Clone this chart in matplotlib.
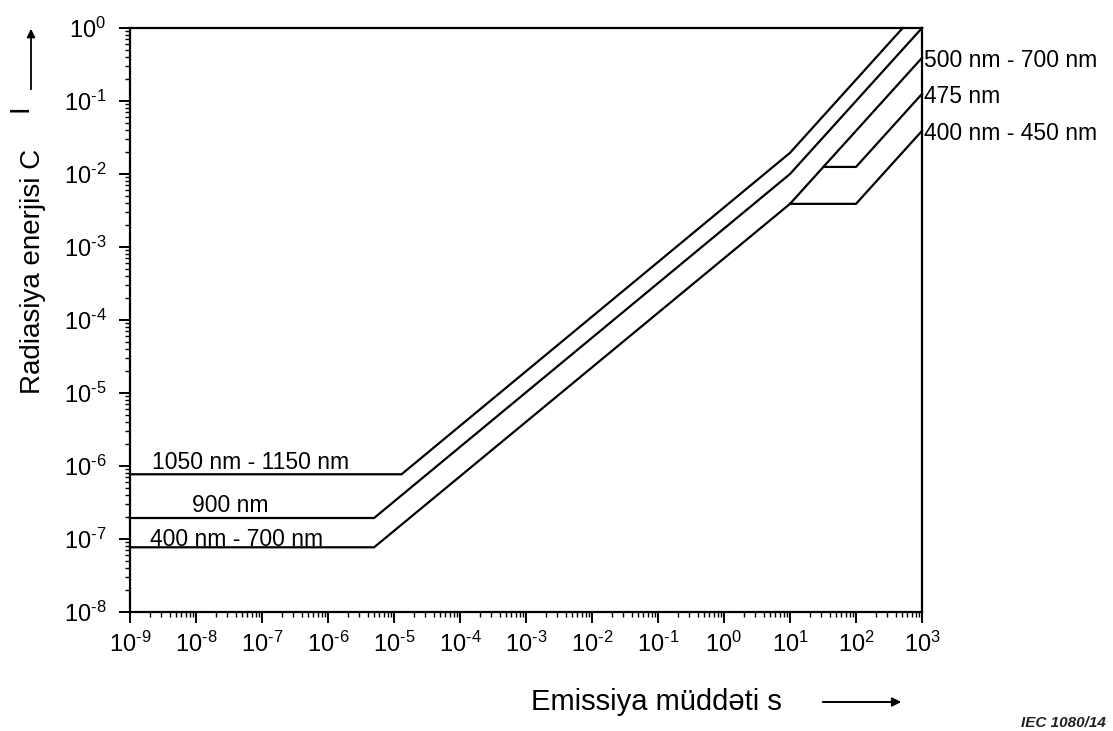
import numpy as np
import matplotlib
matplotlib.use("Agg")
import matplotlib.pyplot as plt
from matplotlib.ticker import LogLocator, FuncFormatter

plt.rcParams['font.family'] = ['Liberation Sans', 'DejaVu Sans']
plt.rcParams['mathtext.fontset'] = 'custom'
plt.rcParams['mathtext.rm'] = 'Liberation Sans'
plt.rcParams['mathtext.it'] = 'Liberation Sans:italic'
plt.rcParams['axes.unicode_minus'] = False

# %% Data
# 1050 nm - 1150 nm
t_1050 = [1e-9, 1.3e-5, 10, 510]
q_1050 = [7.7e-7, 7.7e-7, 1.95e-2, 1.0]
# 900 nm
t_900 = [1e-9, 5e-6, 10, 1000]
q_900 = [1.94e-7, 1.94e-7, 1.0e-2, 1.0]
# 400 nm - 700 nm, continuing as 500 nm - 700 nm after 10 s
t_400_700 = [1e-9, 5e-6, 10, 1000]
q_400_700 = [7.7e-8, 7.7e-8, 3.9e-3, 0.39]
# 475 nm branch
t_475 = [32, 100, 1000]
q_475 = [1.25e-2, 1.25e-2, 0.125]
# 400 nm - 450 nm branch
t_400_450 = [10, 100, 1000]
q_400_450 = [3.9e-3, 3.9e-3, 3.9e-2]

left_labels = ['1050 nm - 1150 nm', '900 nm', '400 nm - 700 nm']
right_labels = ['500 nm - 700 nm', '475 nm', '400 nm - 450 nm']


def pow10(v, pos):
    # exponent with a plain hyphen, like the original figure
    e = int(round(np.log10(v)))
    if e < 0:
        return r'$10^{\text{-}%d}$' % (-e)
    return r'$10^{%d}$' % e


# %% Figure
fig = plt.figure(figsize=(11.13, 7.31), dpi=100)
ax = fig.add_axes([130/1113, 1-612/731, 792/1113, 584/731])

for t, q in [(t_1050, q_1050), (t_900, q_900), (t_400_700, q_400_700),
             (t_475, q_475), (t_400_450, q_400_450)]:
    ax.plot(t, q, color='black', lw=1.6, solid_joinstyle='miter', clip_on=False)

ax.set_xscale('log')
ax.set_yscale('log')
ax.set_xlim(1e-9, 1e3)
ax.set_ylim(1e-8, 1e0)

ax.xaxis.set_major_locator(LogLocator(base=10, numticks=20))
ax.yaxis.set_major_locator(LogLocator(base=10, numticks=20))
ax.xaxis.set_minor_locator(LogLocator(base=10, subs=np.arange(2, 10), numticks=20))
ax.yaxis.set_minor_locator(LogLocator(base=10, subs=np.arange(2, 10), numticks=20))
ax.xaxis.set_major_formatter(FuncFormatter(pow10))
ax.yaxis.set_major_formatter(FuncFormatter(pow10))
ax.tick_params(which='major', direction='out', length=8, width=1.4,
               labelsize=17, colors='black')
ax.tick_params(which='minor', direction='out', length=3.6, width=1.0)
ax.tick_params(axis='x', pad=6)
ax.tick_params(axis='y', pad=9)
for s in ax.spines.values():
    s.set_linewidth(1.6)

# curve labels
ax.text(2.15e-9, 7.7e-7 * 1.2, left_labels[0], fontsize=16.5, va='baseline')
ax.text(8.7e-9, 1.94e-7 * 1.2, left_labels[1], fontsize=16.5, va='baseline')
ax.text(2.0e-9, 7.7e-8 * 1.03, left_labels[2], fontsize=16.5, va='baseline')
ax.text(1.07e3, 0.39 * 0.92, right_labels[0], fontsize=16.5, va='center', clip_on=False)
ax.text(1.07e3, 0.125 * 0.92, right_labels[1], fontsize=16.5, va='center', clip_on=False)
ax.text(1.07e3, 0.039 * 0.92, right_labels[2], fontsize=16.5, va='center', clip_on=False)

# axis titles with arrows
fig.text(656/1113, 1-702/731, 'Emissiya müddəti s', fontsize=21, ha='center', va='center')
fig.add_artist(matplotlib.patches.FancyArrowPatch(
    (820/1113, 1-702/731), (904/1113, 1-702/731), transform=fig.transFigure,
    arrowstyle='-|>', mutation_scale=13, color='black', lw=1.4))
fig.text(33/1113, 1-271/731, 'Radiasiya enerjisi C', fontsize=20, rotation=90,
         ha='center', va='center')
fig.text(21/1113, 1-108/731, 'I', fontsize=20, rotation=90, ha='center', va='center')
fig.add_artist(matplotlib.patches.FancyArrowPatch(
    (31/1113, 1-92/731), (31/1113, 1-26/731), transform=fig.transFigure,
    arrowstyle='-|>', mutation_scale=12, color='black', lw=1.3))
fig.text(1106/1113, 1-723/731, 'IEC 1080/14', fontsize=11, style='italic',
         weight='bold', ha='right', va='center', color='#222222')

fig.savefig('out.png', dpi=100)
